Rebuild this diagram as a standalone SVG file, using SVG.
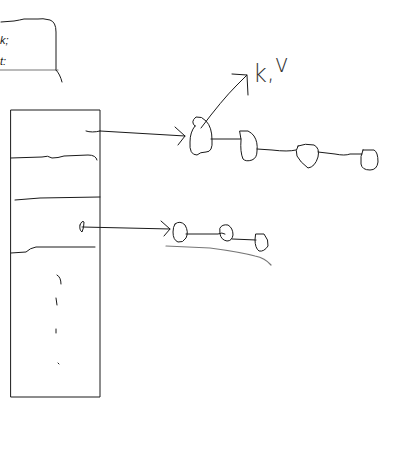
<svg xmlns="http://www.w3.org/2000/svg" width="401" height="451" viewBox="0 0 401 451">
<style>
.s{fill:none;stroke:#1a1a1a;stroke-width:1;stroke-linecap:round;stroke-linejoin:round}
.g{fill:none;stroke:#777;stroke-width:1.2;stroke-linecap:round}
.t{font-family:"Liberation Sans",sans-serif;font-size:11px;fill:#222;font-style:italic}
.kv{font-family:"DejaVu Sans",sans-serif;font-size:24px;font-weight:200;fill:#333}
</style>
<rect width="401" height="451" fill="#fff"/>
<g id="entry-box">
<path class="s" d="M1 22 L14 21 Q20 20 24 19 L38 19 Q42 18 50 20 Q56 22 56 32 L56 70"/>
<path class="g" d="M0 70 L58 70"/>
<path class="s" d="M56 70 Q60 74 62 82"/>
<text class="t" x="0" y="44">k;</text>
<text class="t" x="0" y="65">t:</text>
</g>
<g id="table">
<rect class="s" x="11" y="110" width="89" height="287" stroke="#333"/>
<path class="s" d="M11 158 L42 157 Q48 155 52 158 Q58 158 64 156 L88 155 Q96 155 97 160"/>
<path class="s" d="M15 200 L40 198 L100 197"/>
<path class="s" d="M11 253 L26 252 Q30 248 36 247 L95 247"/>
<path class="s" d="M86 131 Q92 133 100 131"/>
<path class="s" d="M80 225 Q82 220 84 222 Q84 228 82 232 Q79 230 80 225"/>
<path class="s" d="M57 275 Q61 277 61 284"/>
<path class="s" d="M56 298 L57 305"/>
<path class="s" d="M56 329 L56 333"/>
<path class="s" d="M58 363 L59 364"/>
</g>
<g id="connectors">
<path class="s" d="M100 131 L185 136"/>
<path class="s" d="M175 127 L185 136 L178 145"/>
<path class="s" d="M82 227 L170 229"/>
<path class="s" d="M161 221 L170 229 L164 236"/>
<path class="s" d="M201 128 Q222 100 236 86 L247 75 L232 74"/>
<path class="s" d="M247 75 L248 95"/>
<path class="s" d="M211 139 L241 139"/>
<path class="s" d="M257 149 L272 150 Q288 152 296 150"/>
<path class="s" d="M318 152 L335 154 Q345 156 350 154 L362 154"/>
<path class="s" d="M186 234 L218 234 Q222 232 225 234"/>
<path class="s" d="M232 239 L256 240"/>
<path class="g" d="M166 246 L210 248 Q240 252 255 256 Q265 258 271 265"/>
</g>
<g id="kv-label">
<text class="kv" x="253" y="82">k<tspan dy="-2">,</tspan><tspan dy="-8">v</tspan></text>
</g>
<g id="node1">
<path class="s" d="M195 126 Q190 122 196 117 Q202 116 206 121 Q212 127 212 140 Q213 152 206 152 Q200 152 197 155 Q189 155 190 142 Q190 132 195 126 Z"/>
</g>
<g id="node2">
<path class="s" d="M240 131 L248 131 Q252 133 254 136 Q258 142 257 151 Q257 158 252 160 Q246 162 243 159 Q240 152 241 140 Z"/>
</g>
<g id="node3">
<path class="s" d="M298 146 Q305 143 314 145 Q320 148 318 157 Q315 167 308 168 Q300 162 297 156 Q295 150 298 146 Z"/>
</g>
<g id="node4">
<path class="s" d="M363 150 L374 150 Q378 152 378 162 Q377 170 370 170 Q362 170 361 164 Q360 156 363 150 Z"/>
</g>
<g id="nodeA">
<path class="s" d="M175 224 Q180 220 185 225 Q189 232 186 238 Q183 243 178 242 Q173 240 173 232 Q173 227 175 224 Z"/>
</g>
<g id="nodeB">
<path class="s" d="M220 228 Q222 224 228 225 Q233 228 233 235 Q232 241 227 241 Q221 240 220 234 Z"/>
</g>
<g id="nodeC">
<path class="s" d="M256 234 L264 234 Q269 240 268 246 Q264 252 259 251 Q255 248 255 240 Z"/>
</g>
</svg>
